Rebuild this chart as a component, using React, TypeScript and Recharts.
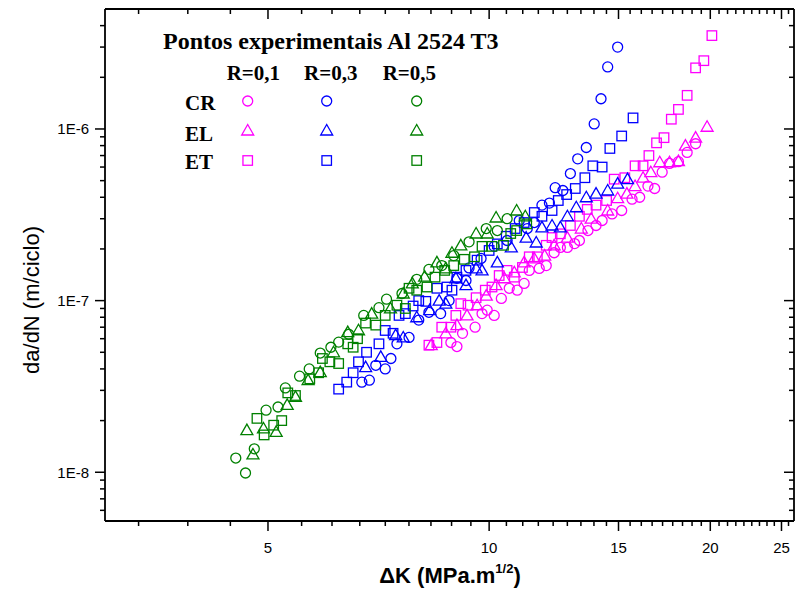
import { ScatterChart, Scatter, XAxis, YAxis } from 'recharts'

const MAGENTA = '#ff00ff'
const BLUE = '#0000ff'
const GREEN = '#008000'
const SANS = '"Liberation Sans", Arial, sans-serif'
const SERIF = '"Liberation Serif", "Times New Roman", serif'

// plot box (chart margins + axis sizes below)
const PLOT_LEFT = 105
const PLOT_TOP = 9
const PLOT_W = 796 - 2 - PLOT_LEFT
const PLOT_H = 601 - 80 - PLOT_TOP

// axis ticks (log axes, Origin style minor ticks)
const xMajor = [5, 10, 15, 20, 25]
const xMinor = [
  3.333, 3.889, 4.444, 5.556, 6.111, 6.667, 7.222, 7.778, 8.333, 8.889, 9.444,
  10.556, 11.111, 11.667, 12.222, 12.778, 13.333, 13.889, 14.444,
  15.556, 16.111, 16.667, 17.222, 17.778, 18.333, 18.889, 19.444,
  20.556, 21.111, 21.667, 22.222, 22.778, 23.333, 23.889, 24.444, 25.556,
]
const yMajor = [1e-8, 1e-7, 1e-6]
const yMinor = [
  6e-9, 7e-9, 8e-9, 9e-9,
  2e-8, 3e-8, 4e-8, 5e-8, 6e-8, 7e-8, 8e-8, 9e-8,
  2e-7, 3e-7, 4e-7, 5e-7, 6e-7, 7e-7, 8e-7, 9e-7,
  2e-6, 3e-6, 4e-6,
]

// [dK (MPa.m^1/2), da/dN (m/ciclo)]
const crR01: [number, number][] = [
  [8.87, 5.7e-8], [9.04, 5.4e-8], [9.2, 6.45e-8], [9.57, 7.0e-8], [9.78, 8.4e-8],
  [9.94, 8.8e-8], [10.16, 8.2e-8], [10.39, 1.03e-7], [10.65, 1.18e-7], [10.92, 1.15e-7],
  [11.16, 1.26e-7], [11.34, 1.5e-7], [11.7, 1.54e-7], [11.96, 1.6e-7], [12.26, 1.9e-7],
  [12.5, 2.04e-7], [12.78, 2.04e-7], [13.07, 2.15e-7], [13.27, 2.24e-7], [13.63, 2.56e-7],
  [13.98, 2.74e-7], [14.25, 2.93e-7], [14.7, 3.2e-7], [15.15, 3.35e-7], [15.65, 3.9e-7],
  [16.03, 4.0e-7], [16.45, 4.65e-7], [16.8, 4.5e-7], [17.2, 5.6e-7], [17.6, 6.3e-7],
  [18.1, 6.45e-7], [18.6, 7.3e-7], [19.1, 8.2e-7],
]
const elR01: [number, number][] = [
  [8.34, 5.5e-8], [8.73, 6.45e-8], [9.04, 7.2e-8], [9.33, 8.2e-8], [9.63, 9.4e-8],
  [9.91, 1.07e-7], [10.22, 1.23e-7], [10.49, 1.35e-7], [10.82, 1.46e-7], [11.16, 1.67e-7],
  [11.52, 1.76e-7], [11.9, 1.83e-7], [12.26, 2.1e-7], [12.78, 2.33e-7], [13.35, 2.63e-7],
  [13.77, 3.0e-7], [14.5, 3.35e-7], [14.96, 3.95e-7], [15.4, 4.2e-7], [15.8, 4.65e-7],
  [16.2, 5.2e-7], [16.6, 5.6e-7], [17.07, 6.4e-7], [17.6, 6.4e-7], [18.1, 6.5e-7],
  [18.5, 8.0e-7], [19.1, 8.9e-7], [19.8, 1.03e-6],
]
const etR01: [number, number][] = [
  [8.28, 5.5e-8], [8.49, 5.7e-8], [8.62, 7.0e-8], [8.87, 7.0e-8], [9.01, 8.2e-8],
  [9.15, 9.6e-8], [9.36, 9.4e-8], [9.6, 1.04e-7], [9.88, 1.15e-7], [10.09, 1.2e-7],
  [10.32, 1.4e-7], [10.58, 1.5e-7], [10.82, 1.37e-7], [11.1, 1.56e-7], [11.34, 1.8e-7],
  [11.63, 1.8e-7], [11.96, 2.1e-7], [12.18, 2.33e-7], [12.5, 2.45e-7], [12.9, 2.74e-7],
  [13.27, 3.1e-7], [13.6, 3.4e-7], [13.98, 3.6e-7], [14.45, 3.83e-7], [14.8, 5.1e-7],
  [15.3, 5.2e-7], [15.8, 6.1e-7], [16.2, 6.1e-7], [16.5, 7.0e-7], [16.9, 8.3e-7],
  [17.3, 8.9e-7], [17.7, 1.14e-6], [18.1, 1.3e-6], [18.6, 1.57e-6], [19.1, 2.27e-6],
  [19.6, 2.5e-6], [20.1, 3.5e-6],
]

const crR03: [number, number][] = [
  [6.71, 3.35e-8], [6.87, 3.44e-8], [7.01, 4.2e-8], [7.22, 4.0e-8], [7.35, 4.6e-8],
  [7.49, 5.6e-8], [7.78, 6.1e-8], [8.02, 7.7e-8], [8.28, 8.55e-8], [8.59, 8.4e-8],
  [8.82, 1.0e-7], [9.04, 1.35e-7], [9.3, 1.31e-7], [9.39, 1.55e-7], [9.75, 1.76e-7],
  [10.16, 2.07e-7], [10.58, 2.24e-7], [10.99, 2.93e-7], [11.27, 2.63e-7], [11.52, 2.85e-7],
  [11.8, 3.6e-7], [12.08, 3.7e-7], [12.3, 4.55e-7], [12.6, 4.38e-7], [12.9, 5.5e-7],
  [13.2, 6.7e-7], [13.56, 7.8e-7], [13.9, 1.07e-6], [14.2, 1.5e-6], [14.5, 2.3e-6],
  [14.96, 3.0e-6],
]
const elR03: [number, number][] = [
  [6.79, 4.1e-8], [7.12, 4.7e-8], [7.46, 6.3e-8], [7.64, 6.1e-8], [7.97, 8.0e-8],
  [8.3, 8.8e-8], [8.55, 1.0e-7], [8.73, 9.6e-8], [9.01, 1.35e-7], [9.3, 1.23e-7],
  [9.6, 1.54e-7], [9.78, 1.5e-7], [10.26, 1.67e-7], [10.72, 2.04e-7], [11.23, 2.33e-7],
  [11.59, 2.18e-7], [11.8, 2.67e-7], [12.18, 2.74e-7], [12.5, 2.67e-7], [12.78, 3.1e-7],
  [13.14, 3.5e-7], [13.56, 4.0e-7], [13.98, 4.2e-7], [14.5, 4.38e-7], [14.96, 4.8e-7],
  [15.43, 5.1e-7],
]
const etR03: [number, number][] = [
  [6.24, 3.05e-8], [6.4, 3.35e-8], [6.53, 3.8e-8], [6.64, 4.4e-8], [6.81, 5.0e-8],
  [7.08, 5.6e-8], [7.22, 6.7e-8], [7.4, 6.45e-8], [7.54, 8.2e-8], [7.69, 8.4e-8],
  [7.88, 9.3e-8], [8.02, 1.0e-7], [8.2, 9.9e-8], [8.49, 1.18e-7], [8.76, 1.2e-7],
  [8.9, 1.15e-7], [9.04, 1.37e-7], [9.3, 1.5e-7], [9.63, 1.72e-7], [10.0, 1.96e-7],
  [10.26, 2.14e-7], [10.55, 2.37e-7], [10.85, 2.63e-7], [11.16, 2.85e-7], [11.52, 3.26e-7],
  [11.8, 3.1e-7], [12.18, 3.35e-7], [12.42, 3.83e-7], [12.75, 4.15e-7], [13.1, 4.5e-7],
  [13.5, 5.2e-7], [13.84, 6.1e-7], [14.25, 6.0e-7], [14.6, 7.7e-7], [15.15, 9.1e-7],
  [15.7, 1.16e-6],
]

const crR05: [number, number][] = [
  [4.52, 1.21e-8], [4.66, 9.9e-9], [4.79, 1.37e-8], [4.97, 2.3e-8], [5.16, 2.4e-8],
  [5.28, 3.1e-8], [5.52, 3.63e-8], [5.69, 4.0e-8], [5.89, 4.95e-8], [6.09, 5.35e-8],
  [6.24, 5.73e-8], [6.44, 6.37e-8], [6.75, 8.2e-8], [7.08, 9.1e-8], [7.25, 1.02e-7],
  [7.61, 1.1e-7], [7.97, 1.33e-7], [8.28, 1.52e-7], [8.62, 1.6e-7], [8.95, 1.83e-7],
  [9.39, 2.2e-7], [9.91, 2.63e-7], [10.26, 2.56e-7], [10.58, 3.0e-7],
]
const elR05: [number, number][] = [
  [4.68, 1.76e-8], [4.77, 1.27e-8], [4.93, 1.8e-8], [5.13, 1.72e-8], [5.31, 2.47e-8],
  [5.45, 2.75e-8], [5.67, 3.44e-8], [5.89, 3.83e-8], [6.14, 5.0e-8], [6.42, 6.55e-8],
  [6.64, 6.72e-8], [6.92, 8.4e-8], [7.34, 9.0e-8], [7.64, 1.1e-7], [7.86, 1.26e-7],
  [8.17, 1.38e-7], [8.49, 1.67e-7], [8.73, 1.54e-7], [8.9, 1.9e-7], [9.15, 2.1e-7],
  [9.6, 2.46e-7], [9.94, 2.46e-7], [10.22, 3.05e-7], [10.9, 3.35e-7], [11.2, 3.1e-7],
]
const etR05: [number, number][] = [
  [4.83, 2.06e-8], [4.94, 1.65e-8], [5.09, 1.88e-8], [5.22, 2.0e-8], [5.32, 2.9e-8],
  [5.45, 2.8e-8], [5.7, 3.5e-8], [5.86, 3.8e-8], [5.93, 4.6e-8], [6.07, 4.4e-8],
  [6.24, 4.3e-8], [6.42, 5.6e-8], [6.53, 5.35e-8], [6.62, 6.0e-8], [6.79, 7.4e-8],
  [7.01, 7.2e-8], [7.22, 8.2e-8], [7.49, 9.4e-8], [7.69, 9.0e-8], [7.78, 1.18e-7],
  [7.97, 1.15e-7], [8.23, 1.2e-7], [8.44, 1.37e-7], [8.7, 1.5e-7], [8.95, 1.6e-7],
  [9.25, 1.74e-7], [9.55, 1.8e-7], [9.78, 2.07e-7], [10.09, 2.07e-7], [10.46, 2.1e-7],
  [10.7, 2.46e-7], [10.9, 2.56e-7], [11.25, 2.8e-7],
]

type Kind = 'circle' | 'triangle' | 'square'

const series: { key: string; data: [number, number][]; color: string; kind: Kind }[] = [
  { key: 'CR R=0,1', data: crR01, color: MAGENTA, kind: 'circle' },
  { key: 'EL R=0,1', data: elR01, color: MAGENTA, kind: 'triangle' },
  { key: 'ET R=0,1', data: etR01, color: MAGENTA, kind: 'square' },
  { key: 'CR R=0,3', data: crR03, color: BLUE, kind: 'circle' },
  { key: 'EL R=0,3', data: elR03, color: BLUE, kind: 'triangle' },
  { key: 'ET R=0,3', data: etR03, color: BLUE, kind: 'square' },
  { key: 'CR R=0,5', data: crR05, color: GREEN, kind: 'circle' },
  { key: 'EL R=0,5', data: elR05, color: GREEN, kind: 'triangle' },
  { key: 'ET R=0,5', data: etR05, color: GREEN, kind: 'square' },
]

function Marker({ kind, cx, cy, color }: { kind: Kind; cx: number; cy: number; color: string }) {
  const common = { fill: 'none', stroke: color, strokeWidth: 1.3 }
  if (kind === 'circle') return <circle cx={cx} cy={cy} r={5} {...common} />
  if (kind === 'square') return <rect x={cx - 4.75} y={cy - 4.75} width={9.5} height={9.5} {...common} />
  const pts = `${cx},${cy - 6} ${cx - 6},${cy + 4.5} ${cx + 6},${cy + 4.5}`
  return <polygon points={pts} {...common} />
}

const shapeFor = (kind: Kind, color: string) => (p: any) =>
  <Marker kind={kind} cx={p.cx} cy={p.cy} color={color} />

const TICK = { stroke: '#000', strokeWidth: 1.5 }
const AXIS_LINE = { stroke: '#000', strokeWidth: 1.8 }

// bottom ticks; the same x also gets the inward mirror tick on the top frame
function BottomTick({ x, y, payload }: any) {
  const major = xMajor.includes(payload.value)
  const len = major ? 10 : 5
  const top = y - PLOT_H
  return (
    <g>
      <line x1={x} x2={x} y1={y} y2={y + len} {...TICK} />
      <line x1={x} x2={x} y1={top} y2={top + len} {...TICK} />
      {major && (
        <text x={x} y={y + 32} textAnchor="middle" fontSize={15} fontFamily={SANS} fill="#000">
          {payload.value}
        </text>
      )}
    </g>
  )
}

// left ticks; the same y also gets the inward mirror tick on the right frame
function LeftTick({ x, y, payload }: any) {
  const major = yMajor.includes(payload.value)
  const len = major ? 10 : 5
  const right = x + PLOT_W
  return (
    <g>
      <line x1={x} x2={x - len} y1={y} y2={y} {...TICK} />
      <line x1={right} x2={right - len} y1={y} y2={y} {...TICK} />
      {major && (
        <text x={x - 16} y={y} dy="0.36em" textAnchor="end" fontSize={15} fontFamily={SANS} fill="#000">
          {`1E${Math.round(Math.log10(payload.value))}`}
        </text>
      )}
    </g>
  )
}

const X_DOMAIN: [number, number] = [3, 26]
const Y_DOMAIN: [number, number] = [5.2e-9, 5e-6]
const xTicks = [...xMajor, ...xMinor]
const yTicks = [...yMajor, ...yMinor]

const legendCols = [
  { label: 'R=0,1', color: MAGENTA, tx: 226.7, mx: 247.7 },
  { label: 'R=0,3', color: BLUE, tx: 304, mx: 326.7 },
  { label: 'R=0,5', color: GREEN, tx: 382.7, mx: 416.7 },
]
const legendRows: { label: string; kind: Kind; ty: number; my: number }[] = [
  { label: 'CR', kind: 'circle', ty: 110, my: 101 },
  { label: 'EL', kind: 'triangle', ty: 140.5, my: 130.5 },
  { label: 'ET', kind: 'square', ty: 168.5, my: 160.5 },
]

export default function App() {
  return (
    <div style={{ position: 'absolute', left: 0, top: 0, width: 796, height: 601, background: '#fff' }}>
      <ScatterChart width={796} height={601} margin={{ top: PLOT_TOP, right: 2, bottom: 0, left: 0 }}>
        <XAxis
          xAxisId="k" dataKey="x" type="number" scale="log" domain={X_DOMAIN} allowDataOverflow
          ticks={xTicks} interval={0} tickSize={0} tickMargin={0} tickLine={false}
          tick={BottomTick} axisLine={AXIS_LINE} height={80}
        />
        <YAxis
          yAxisId="r" dataKey="y" type="number" scale="log" domain={Y_DOMAIN} allowDataOverflow
          ticks={yTicks} interval={0} tickSize={0} tickMargin={0} tickLine={false}
          tick={LeftTick} axisLine={AXIS_LINE} width={PLOT_LEFT}
        />
        {series.map(s => (
          <Scatter
            key={s.key}
            name={s.key}
            xAxisId="k"
            yAxisId="r"
            data={s.data.map(([x, y]) => ({ x, y }))}
            shape={shapeFor(s.kind, s.color)}
            isAnimationActive={false}
          />
        ))}
      </ScatterChart>

      {/* frame, legend box and axis titles */}
      <svg width={796} height={601} style={{ position: 'absolute', left: 0, top: 0, pointerEvents: 'none' }}>
        <line x1={PLOT_LEFT} x2={PLOT_LEFT + PLOT_W} y1={PLOT_TOP} y2={PLOT_TOP} stroke="#000" strokeWidth={1.8} />
        <line x1={PLOT_LEFT + PLOT_W} x2={PLOT_LEFT + PLOT_W} y1={PLOT_TOP} y2={PLOT_TOP + PLOT_H} stroke="#000" strokeWidth={1.8} />

        <text x={163} y={49} fontFamily={SERIF} fontWeight="bold" fontSize={24} fill="#000">
          Pontos experimentais Al 2524 T3
        </text>
        {legendCols.map(c => (
          <text key={c.label} x={c.tx} y={80} fontFamily={SERIF} fontWeight="bold" fontSize={21} fill="#000">
            {c.label}
          </text>
        ))}
        {legendRows.map(r => (
          <g key={r.label}>
            <text x={185} y={r.ty} fontFamily={SERIF} fontWeight="bold" fontSize={21} fill="#000">{r.label}</text>
            {legendCols.map(c => (
              <Marker key={c.label} kind={r.kind} cx={c.mx} cy={r.my} color={c.color} />
            ))}
          </g>
        ))}

        <text x={450} y={583} textAnchor="middle" fontFamily={SANS} fontWeight="bold" fontSize={22} fill="#000">
          ΔK (MPa.m<tspan fontSize={13} dy={-10}>1/2</tspan><tspan dy={10}>)</tspan>
        </text>
        <text
          transform="translate(39, 300) rotate(-90)" textAnchor="middle"
          fontFamily={SANS} fontSize={22} fill="#000"
        >
          da/dN (m/ciclo)
        </text>
      </svg>
    </div>
  )
}
